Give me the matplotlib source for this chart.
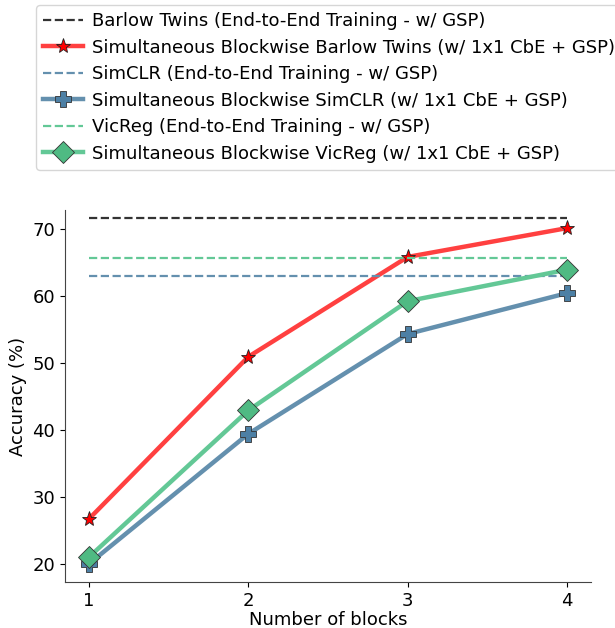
import numpy as np
import matplotlib
matplotlib.use('Agg')
import matplotlib.pyplot as plt

FONT_SIZE = 13

blocks = [1, 2, 3, 4]
barlow_e2e = 71.6
simclr_e2e = 63.0
vicreg_e2e = 65.7
barlow_blockwise = [26.7, 50.9, 65.8, 70.1]
simclr_blockwise = [20.0, 39.4, 54.3, 60.4]
vicreg_blockwise = [21.0, 42.9, 59.2, 63.9]

RED = '#ff4040'
BLUE = '#6490ae'
GREEN = '#63c896'

plt.rcParams['font.size'] = FONT_SIZE
fig = plt.figure(figsize=(6.15, 6.28), dpi=100)
ax = fig.add_axes([0.1057, 0.0733, 0.8553, 0.5923])

ax.plot([blocks[0], blocks[-1]], [barlow_e2e, barlow_e2e], '--', color='#333333', linewidth=1.6,
        label='Barlow Twins (End-to-End Training - w/ GSP)')
ax.plot(blocks, barlow_blockwise, '-', color=RED, linewidth=3.2, marker='*', markersize=11,
        markerfacecolor='red', markeredgecolor='#222222', markeredgewidth=0.6,
        label='Simultaneous Blockwise Barlow Twins (w/ 1x1 CbE + GSP)')
ax.plot([blocks[0], blocks[-1]], [simclr_e2e, simclr_e2e], '--', color=BLUE, linewidth=1.6,
        label='SimCLR (End-to-End Training - w/ GSP)')
ax.plot(blocks, simclr_blockwise, '-', color=BLUE, linewidth=3.2, marker='P', markersize=11,
        markerfacecolor='#4d80a5', markeredgecolor='#333333', markeredgewidth=0.6,
        label='Simultaneous Blockwise SimCLR (w/ 1x1 CbE + GSP)')
ax.plot([blocks[0], blocks[-1]], [vicreg_e2e, vicreg_e2e], '--', color=GREEN, linewidth=1.6,
        label='VicReg (End-to-End Training - w/ GSP)')
ax.plot(blocks, vicreg_blockwise, '-', color=GREEN, linewidth=3.2, marker='D', markersize=11,
        markerfacecolor='#4fba83', markeredgecolor='#333333', markeredgewidth=0.6,
        label='Simultaneous Blockwise VicReg (w/ 1x1 CbE + GSP)')

ax.set_xlim(0.85, 4.15)
ax.set_ylim(17.3, 72.8)
ax.set_xticks(blocks)
ax.set_yticks([20, 30, 40, 50, 60, 70])
ax.set_xlabel('Number of blocks', labelpad=1)
ax.set_ylabel('Accuracy (%)')
ax.spines['top'].set_visible(False)
ax.spines['right'].set_visible(False)
for side in ['left', 'bottom']:
    ax.spines[side].set_color('#444444')

handles, labels = ax.get_legend_handles_labels()
fig.legend(handles, labels, loc='upper left', bbox_to_anchor=(36 / 615, 1 - 5 / 628),
           borderaxespad=0, fontsize=FONT_SIZE, handlelength=2.2, handletextpad=0.5,
           labelspacing=0.47)

plt.savefig('out.png', dpi=100)
plt.close()
